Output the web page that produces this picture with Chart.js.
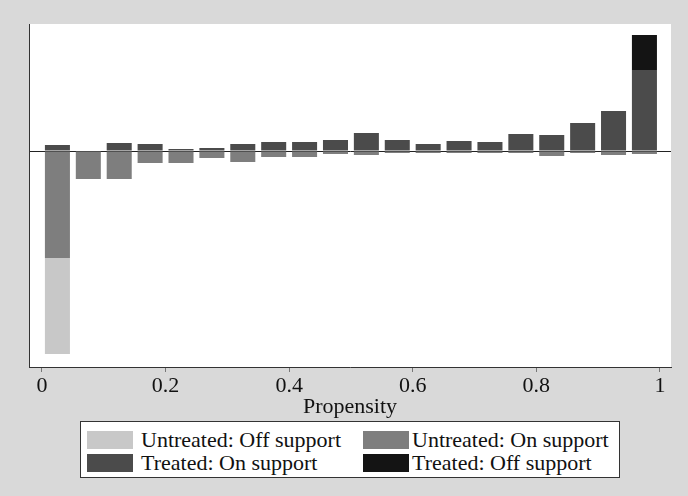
<!DOCTYPE html>
<html>
<head>
<meta charset="utf-8">
<script src="https://cdn.jsdelivr.net/npm/chart.js@4/dist/chart.umd.min.js"></script>
<style>
  html, body { margin: 0; padding: 0; background: #d9d9d9; }
  #wrap { position: relative; width: 688px; height: 496px; }
  #grafico { position: absolute; left: 0; top: 0; }
  #leyenda {
    position: absolute; left: 80px; top: 421px; width: 538px; height: 55px;
    background: #fff; border: 1px solid #333;
    font-family: "Liberation Serif", "DejaVu Serif", serif; font-size: 22px; color: #111;
  }
  .item { position: absolute; height: 22px; line-height: 22px; white-space: nowrap; }
  .swatch { position: absolute; left: 0; top: 2px; width: 46px; height: 18px; }
  .txt { position: absolute; left: 54px; top: 0; }
</style>
</head>
<body>
<div id="wrap">
  <canvas id="grafico" width="688" height="496"></canvas>
  <div id="leyenda"></div>
</div>
<script>
// bins of the propensity score (centres)
const binCenters = [0.025, 0.075, 0.125, 0.175, 0.225, 0.275, 0.325, 0.375, 0.425, 0.475,
                    0.525, 0.575, 0.625, 0.675, 0.725, 0.775, 0.825, 0.875, 0.925, 0.975]

// treated go up, untreated go down
const treatedOn    = [6, 0.5, 8, 7, 2, 3, 7, 9, 9, 11, 18, 11, 7, 10, 9, 17, 16, 28, 40, 81]
const treatedOff   = [0, 0, 0, 0, 0, 0, 0, 0, 0, 0, 0, 0, 0, 0, 0, 0, 0, 0, 0, 35]
const untreatedOn  = [-107, -28, -28, -12, -12, -7, -11, -6, -6, -3, -4, -2, -2, -2, -2, -2, -5, -2, -4, -3]
const untreatedOff = [-96, 0, 0, 0, 0, 0, 0, 0, 0, 0, 0, 0, 0, 0, 0, 0, 0, 0, 0, 0]

const xTicks = [0, 0.2, 0.4, 0.6, 0.8, 1]
const xTickLabels = ['0', '0.2', '0.4', '0.6', '0.8', '1']

const fuente = "'Liberation Serif', 'DejaVu Serif', serif"

function serie(valores) {
    return binCenters.map((x, i) => ({ x: x, y: valores[i] }))
}

// order matters for stacking: closest to zero first
const datasets = [
    { label: 'Untreated: On support', data: serie(untreatedOn), backgroundColor: '#7e7e7e' },
    { label: 'Untreated: Off support', data: serie(untreatedOff), backgroundColor: '#c8c8c8' },
    { label: 'Treated: On support', data: serie(treatedOn), backgroundColor: '#4b4b4b' },
    { label: 'Treated: Off support', data: serie(treatedOff), backgroundColor: '#141414' }
].map(d => ({ ...d, grouped: false, barPercentage: 0.81, categoryPercentage: 1, borderWidth: 0 }))

const fondoBlanco = {
    id: 'fondoBlanco',
    beforeDraw(chart) {
        const { ctx, chartArea } = chart
        ctx.save()
        ctx.fillStyle = '#ffffff'
        ctx.fillRect(chartArea.left, chartArea.top, chartArea.right - chartArea.left, chartArea.bottom - chartArea.top)
        ctx.restore()
    }
}

const config = {
    type: 'bar',
    data: { datasets: datasets },
    options: {
        responsive: false,
        animation: false,
        layout: { padding: { left: 29, top: 24, right: 17, bottom: 78 } },
        plugins: {
            legend: { display: false },
            tooltip: { enabled: false }
        },
        scales: {
            x: {
                type: 'linear',
                min: -0.021,
                max: 1.018,
                offset: false,
                afterBuildTicks: scale => { scale.ticks = xTicks.map(v => ({ value: v })) },
                afterFit: scale => { scale.height = 51 },
                ticks: {
                    autoSkip: false,
                    maxRotation: 0,
                    padding: 3,
                    color: '#111',
                    font: { family: fuente, size: 22, lineHeight: 1 },
                    callback: (v) => xTickLabels[xTicks.indexOf(v)]
                },
                grid: { offset: false, drawOnChartArea: false, tickLength: 5, color: '#777' },
                border: { display: true, color: '#333', width: 1 },
                title: {
                    display: true,
                    text: 'Propensity',
                    color: '#111',
                    padding: 0,
                    font: { family: fuente, size: 22, lineHeight: 1 }
                }
            },
            y: {
                stacked: true,
                min: -216,
                max: 127,
                afterBuildTicks: scale => { scale.ticks = [{ value: 0 }] },
                afterFit: scale => { scale.width = 0 },
                ticks: { display: false },
                grid: {
                    drawTicks: false,
                    color: ctx => ctx.tick && ctx.tick.value === 0 ? '#222' : 'rgba(0,0,0,0)',
                    lineWidth: 1
                },
                border: { display: true, color: '#333', width: 1 }
            }
        }
    },
    plugins: [fondoBlanco]
}

const myChart = new Chart(document.getElementById('grafico'), config)

// legend laid out like the original: two columns, two rows
const $leyenda = document.getElementById('leyenda')
const ordenLeyenda = [1, 0, 2, 3]
const posiciones = [[6, 7], [282, 7], [6, 30], [282, 30]]
ordenLeyenda.forEach((idx, i) => {
    const ds = datasets[idx]
    const item = document.createElement('div')
    item.className = 'item'
    item.style.left = posiciones[i][0] + 'px'
    item.style.top = posiciones[i][1] + 'px'
    const sw = document.createElement('div')
    sw.className = 'swatch'
    sw.style.background = ds.backgroundColor
    const tx = document.createElement('div')
    tx.className = 'txt'
    tx.style.left = (i % 2 === 0 ? 54 : 49) + 'px'
    tx.innerText = ds.label
    item.appendChild(sw)
    item.appendChild(tx)
    $leyenda.appendChild(item)
})
</script>
</body>
</html>
